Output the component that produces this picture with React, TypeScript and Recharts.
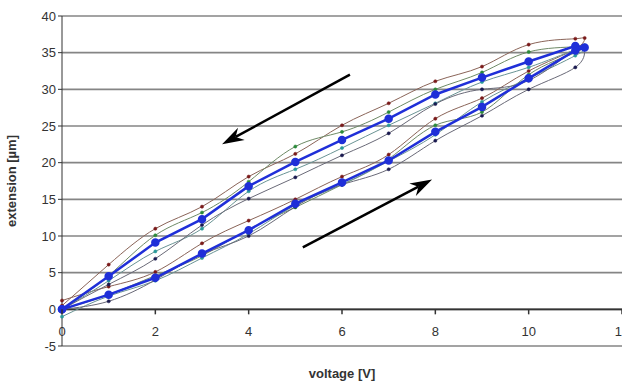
import { LineChart, Line, XAxis, YAxis, CartesianGrid, ReferenceLine } from "recharts"

// voltage path: ramp up 0..11, 11.2, then back down 11..0
const voltage = [0, 1, 2, 3, 4, 5, 6, 7, 8, 9, 10, 11, 11.2, 11, 10, 9, 8, 7, 6, 5, 4, 3, 2, 1, 0]

const run1 = [1.2, 3.1, 5.1, 9.0, 12.1, 15.0, 18.1, 21.1, 26.0, 28.8, 32.5, 35.5, 37.0, 36.9, 36.1, 33.1, 31.1, 28.1, 25.1, 21.2, 18.1, 14.0, 11.0, 6.1, 0.5]
const run2 = [0, 2.0, 4.6, 7.3, 10.9, 13.9, 17.0, 20.5, 25.1, 26.9, 32.0, 35.0, 36.0, 35.8, 35.1, 32.3, 30.0, 26.9, 24.2, 22.2, 17.4, 13.2, 10.1, 4.6, 0]
const run3 = [-1.0, 1.8, 3.9, 7.0, 10.3, 14.2, 17.0, 20.2, 23.8, 28.3, 31.5, 34.6, 35.5, 35.4, 33.0, 31.0, 28.1, 25.1, 22.0, 19.1, 16.1, 11.0, 7.9, 3.9, 0]
const run4 = [0, 1.1, 4.0, 7.5, 10.0, 14.0, 17.0, 19.1, 23.0, 26.4, 30.0, 33.0, 35.5, 35.5, 31.2, 30.0, 28.0, 24.0, 21.0, 18.0, 15.1, 11.5, 6.9, 3.4, 0]
const average = [0, 2.0, 4.3, 7.6, 10.8, 14.4, 17.3, 20.3, 24.2, 27.6, 31.5, 35.3, 35.7, 35.9, 33.8, 31.6, 29.3, 26.0, 23.1, 20.1, 16.8, 12.3, 9.1, 4.5, 0]

const xTicks = [0, 2, 4, 6, 8, 10, 12]
const yTicks = [-5, 0, 5, 10, 15, 20, 25, 30, 35, 40]

// arrows: [x1, y1, x2, y2] in data units, head at the second point
const arrowDown = [6.17, 32.0, 3.43, 22.5]
const arrowUp = [5.16, 8.45, 7.93, 17.7]

const Y_MIN = -5
const Y_MAX = 40
const TOP = 16
const PLOT_H = 330
const ZERO_Y = TOP + (PLOT_H * Y_MAX) / (Y_MAX - Y_MIN)

const toPoints = (ys: number[]) => ys.map((y, i) => ({ x: voltage[i], y }))

const runs = [
  { name: "run1", values: run1, line: "#8a6458", dot: "#7a1a1a" },
  { name: "run2", values: run2, line: "#6e8a66", dot: "#2a8a3a" },
  { name: "run3", values: run3, line: "#6a9494", dot: "#2a9a9a" },
  { name: "run4", values: run4, line: "#6a6a78", dot: "#1a1a50" },
]

const font = "Liberation Sans, Arial, sans-serif"

const XTick = (props: any) => {
  const { x, payload } = props
  return (
    <g>
      <line x1={x} x2={x} y1={ZERO_Y} y2={ZERO_Y + 5} stroke="#333" strokeWidth={1.5} />
      <text x={x} y={ZERO_Y + 27} textAnchor="middle" fontSize={13} fontFamily={font} fill="#333">
        {payload.value}
      </text>
    </g>
  )
}

const Arrow = (props: any) => {
  const { x1, y1, x2, y2 } = props
  const ang = Math.atan2(y2 - y1, x2 - x1)
  const len = 22
  const half = 7
  const bx = x2 - len * Math.cos(ang)
  const by = y2 - len * Math.sin(ang)
  const nx = -Math.sin(ang)
  const ny = Math.cos(ang)
  const mx = x2 - len * 0.7 * Math.cos(ang)
  const my = y2 - len * 0.7 * Math.sin(ang)
  return (
    <g>
      <line x1={x1} y1={y1} x2={mx} y2={my} stroke="#000" strokeWidth={2.5} />
      <polygon
        points={`${x2},${y2} ${bx + nx * half},${by + ny * half} ${mx},${my} ${bx - nx * half},${by - ny * half}`}
        fill="#000"
      />
    </g>
  )
}

export default function App() {
  return (
    <div style={{ position: "absolute", left: 0, top: 0, width: 622, height: 383, overflow: "hidden", background: "#fff" }}>
      <LineChart width={640} height={383} margin={{ top: TOP, right: 18, left: 0, bottom: 0 }}>
        <CartesianGrid vertical={false} stroke="#858585" strokeWidth={1.6} />
        <XAxis
          type="number"
          dataKey="x"
          domain={[0, 12]}
          ticks={xTicks}
          axisLine={false}
          tickLine={false}
          tick={<XTick />}
          height={37}
          label={{ value: "voltage [V]", position: "insideBottom", offset: 5, style: { fontFamily: font, fontSize: 13, fontWeight: "bold", fill: "#333" } }}
        />
        <YAxis
          type="number"
          domain={[Y_MIN, Y_MAX]}
          ticks={yTicks}
          width={62}
          stroke="#333"
          tickSize={4}
          tick={{ fontFamily: font, fontSize: 13, fill: "#333" }}
          label={{ value: "extension [µm]", angle: -90, position: "insideLeft", offset: 11, style: { fontFamily: font, fontSize: 13, fontWeight: "bold", fill: "#333", textAnchor: "middle" } }}
        />
        <ReferenceLine y={0} stroke="#333" strokeWidth={1.6} />
        {runs.map((r) => (
          <Line
            key={r.name}
            data={toPoints(r.values)}
            dataKey="y"
            type="natural"
            stroke={r.line}
            strokeWidth={1}
            dot={{ r: 1.6, fill: r.dot, stroke: r.dot, strokeWidth: 0.5 }}
            isAnimationActive={false}
          />
        ))}
        <Line
          data={toPoints(average)}
          dataKey="y"
          type="linear"
          stroke="#1f2fd8"
          strokeWidth={2.5}
          dot={{ r: 3, fill: "#1f2fd8", stroke: "#1f2fd8" }}
          isAnimationActive={false}
        />
        <ReferenceLine
          segment={[{ x: arrowDown[0], y: arrowDown[1] }, { x: arrowDown[2], y: arrowDown[3] }]}
          shape={(p: any) => <Arrow {...p} />}
        />
        <ReferenceLine
          segment={[{ x: arrowUp[0], y: arrowUp[1] }, { x: arrowUp[2], y: arrowUp[3] }]}
          shape={(p: any) => <Arrow {...p} />}
        />
      </LineChart>
    </div>
  )
}
